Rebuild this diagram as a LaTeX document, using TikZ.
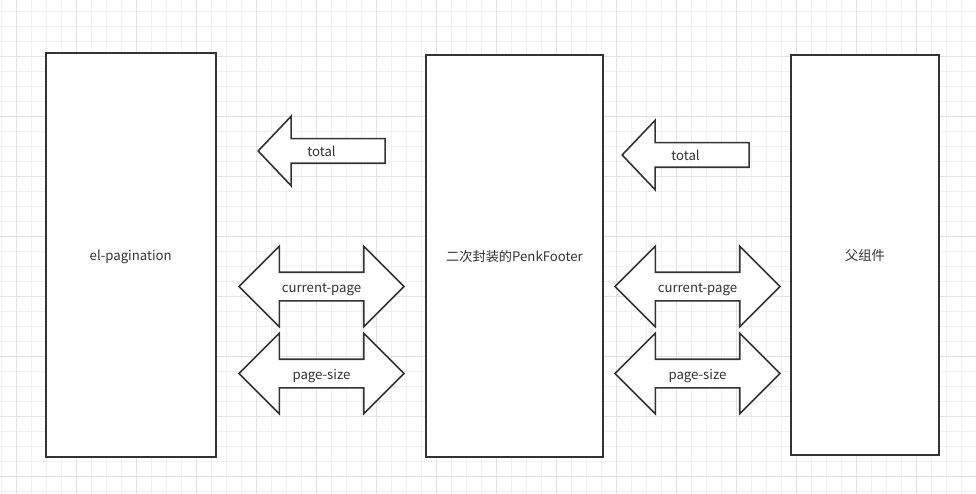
\documentclass[tikz,border=0pt]{standalone}
\usepackage{fontspec}
\setmainfont{Noto Sans CJK SC}
\usetikzlibrary{shapes.arrows}
\definecolor{ink}{HTML}{333333}
\definecolor{gridminor}{HTML}{F0F0F0}
\definecolor{gridmajor}{HTML}{E2E2E2}
\tikzset{
  box/.style={draw=ink, line width=2pt, fill=white, rectangle, inner sep=0pt,
    text height=11.5pt, text depth=0.5pt},
  leftarrow/.style={draw=ink, line width=1.6pt, fill=white, single arrow,
    shape border rotate=180, single arrow head extend=22.5pt,
    single arrow tip angle=93, minimum height=127pt,
    text height=11.5pt, text depth=0.5pt, inner xsep=0pt, inner ysep=5.5pt},
  botharrow/.style={draw=ink, line width=1.6pt, fill=white, double arrow,
    double arrow head extend=26pt, double arrow tip angle=90,
    minimum height=165pt,
    text height=11.5pt, text depth=0.5pt, inner xsep=0pt, inner ysep=7.5pt}
}
\begin{document}
\begin{tikzpicture}[x=1pt, y=-1pt, font=\fontsize{13.2pt}{15pt}\selectfont, text=ink]
  \useasboundingbox (0, 0) rectangle (976, 494);
  % grid
  \foreach \i in {0, 1, ..., 65} \draw[gridminor, line width=1pt] (1.7+15*\i, 0) -- (1.7+15*\i, 494);
  \foreach \i in {0, 1, ..., 32} \draw[gridminor, line width=1pt] (0, 11.7+15*\i) -- (976, 11.7+15*\i);
  \foreach \i in {0, 1, ..., 16} \draw[gridmajor, line width=1pt] (16.7+60*\i, 0) -- (16.7+60*\i, 494);
  \foreach \i in {0, 1, ..., 7} \draw[gridmajor, line width=1pt] (0, 56.7+60*\i) -- (976, 56.7+60*\i);

  \node at (130.75, 255.3) [box, minimum width=170pt, minimum height=404pt] (pg) {el-pagination};
  \node at (514.5, 256) [box, minimum width=177pt, minimum height=402pt] (pf) {二次封装的PenkFooter};
  \node at (865, 255) [box, minimum width=148pt, minimum height=400pt] (par) {父组件};

  % single arrows: shape sits 6pt left of its center, so label is pulled back
  \node at (327.5, 151) [leftarrow, label={[xshift=-6pt, text height=11.5pt, text depth=0.5pt]center:total}] (t1) {};
  \node at (321.5, 286.5) [botharrow] (c1) {current-page};
  \node at (321.5, 373.5) [botharrow] (s1) {page-size};

  \node at (691.5, 155) [leftarrow, label={[xshift=-6pt, text height=11.5pt, text depth=0.5pt]center:total}] (t2) {};
  \node at (697.5, 286.5) [botharrow] (c2) {current-page};
  \node at (697.5, 373.5) [botharrow] (s2) {page-size};
\end{tikzpicture}
\end{document}
